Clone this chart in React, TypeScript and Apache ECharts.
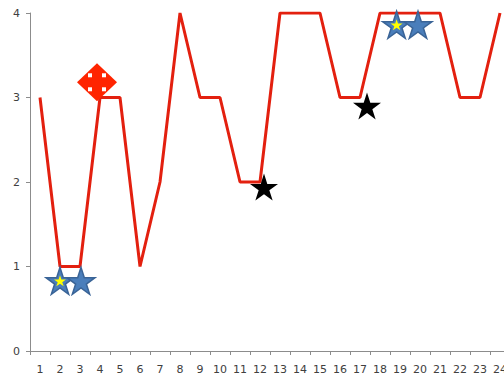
import React, { useEffect, useRef } from "react";
import * as echarts from "echarts";

// Category labels along the bottom axis
const categories = Array.from({ length: 24 }, (_, i) => String(i + 1));

// Main red line values per category
const lineValues = [3, 1, 1, 3, 3, 1, 2, 4, 3, 3, 2, 2, 4, 4, 4, 3, 3, 4, 4, 4, 4, 3, 3, 4];

// Marker points: [x in category units, y value]
const blueStars: [number, number][] = [
  [2.0, 0.83],
  [3.05, 0.83],
  [18.83, 3.86],
  [19.9, 3.86],
];
const yellowStars: [number, number][] = [
  [2.0, 0.83],
  [18.83, 3.86],
];
const blackStars: [number, number][] = [
  [12.2, 1.94],
  [17.35, 2.9],
];
const redDiamonds: [number, number][] = [[3.85, 3.18]];

const yTicks = [0, 1, 2, 3, 4];

const STAR_PATH =
  "path://M100,0 L122.45,69.1 L195.1,69.1 L136.33,111.8 L158.78,180.9 L100,138.2 L41.22,180.9 L63.67,111.8 L4.9,69.1 L77.55,69.1 Z";

const DOT_OFFSETS: [number, number][] = [
  [-7, -7],
  [7, -7],
  [-7, 7],
  [7, 7],
];

const FONT = "DejaVu Sans";

export default function App() {
  const ref = useRef<HTMLDivElement>(null);

  useEffect(() => {
    if (!ref.current) return;
    const chart = echarts.init(ref.current, undefined, { renderer: "svg" });

    const axisGray = "#8c8c8c";
    const labelStyle = { color: "#404040", fontFamily: FONT, fontSize: 11 };

    chart.setOption({
      animation: false,
      backgroundColor: "#ffffff",
      grid: { left: 30, top: 13, width: 480, bottom: 28, containLabel: false },
      xAxis: [
        {
          type: "category",
          data: categories,
          boundaryGap: true,
          axisLine: { lineStyle: { color: axisGray, width: 1 } },
          axisTick: { show: true, length: 4, lineStyle: { color: axisGray } },
          axisLabel: { ...labelStyle, margin: 13, interval: 0 },
          splitLine: { show: false },
        },
        {
          type: "value",
          min: 0.5,
          max: 24.5,
          show: false,
          position: "bottom",
          splitLine: { show: false },
        },
      ],
      yAxis: {
        type: "value",
        min: yTicks[0],
        max: yTicks[yTicks.length - 1],
        interval: 1,
        axisLine: { show: true, lineStyle: { color: axisGray, width: 1 } },
        axisTick: { show: true, length: 4, lineStyle: { color: axisGray } },
        axisLabel: { ...labelStyle, margin: 10 },
        splitLine: { show: false },
      },
      series: [
        {
          type: "line",
          xAxisIndex: 0,
          data: lineValues,
          symbol: "none",
          lineStyle: { color: "#e3200f", width: 3 },
          z: 2,
        },
        {
          type: "scatter",
          xAxisIndex: 1,
          data: redDiamonds,
          symbol: "diamond",
          symbolSize: [40, 38],
          itemStyle: { color: "#ff2400", opacity: 1 },
          z: 3,
        },
        {
          type: "scatter",
          xAxisIndex: 1,
          data: redDiamonds.flatMap((p) =>
            DOT_OFFSETS.map((o) => ({ value: p, symbolOffset: o }))
          ),
          symbol: "rect",
          symbolSize: 4,
          itemStyle: { color: "#ffffff", opacity: 1 },
          z: 4,
        },
        {
          type: "scatter",
          xAxisIndex: 1,
          data: blueStars,
          symbol: STAR_PATH,
          symbolSize: [28, 27],
          itemStyle: { color: "#4a7ebb", borderColor: "#3a6497", borderWidth: 1.5, opacity: 1 },
          z: 3,
        },
        {
          type: "scatter",
          xAxisIndex: 1,
          data: yellowStars,
          symbol: STAR_PATH,
          symbolSize: [12, 11],
          itemStyle: { color: "#ffff00", opacity: 1 },
          z: 4,
        },
        {
          type: "scatter",
          xAxisIndex: 1,
          data: blackStars,
          symbol: STAR_PATH,
          symbolSize: [28, 27],
          itemStyle: { color: "#000000", opacity: 1 },
          z: 3,
        },
      ],
    });

    return () => chart.dispose();
  }, []);

  return (
    <div
      style={{
        position: "fixed",
        left: 0,
        top: 0,
        width: 504,
        height: 379,
        overflow: "hidden",
        background: "#fff",
      }}
    >
      <div ref={ref} style={{ width: 520, height: 379 }} />
    </div>
  );
}
